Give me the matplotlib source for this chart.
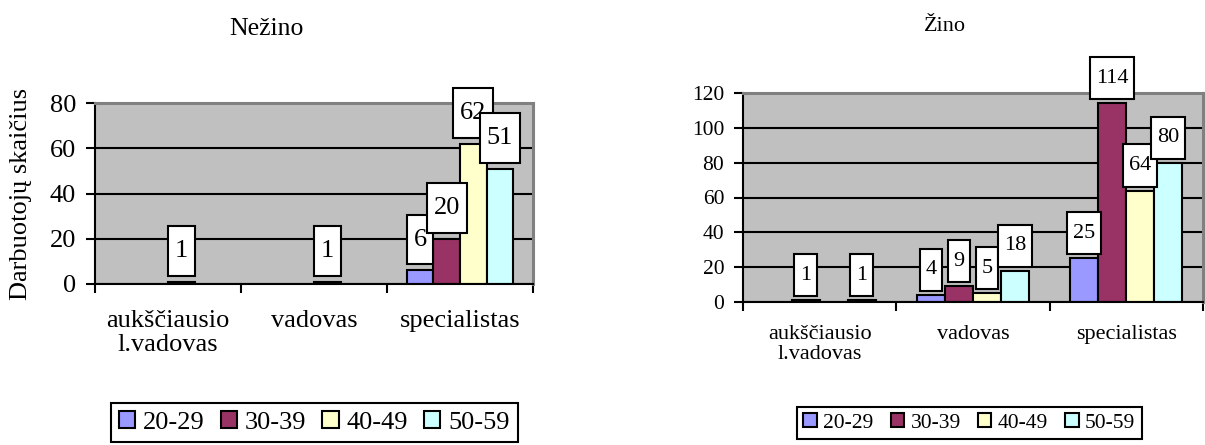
import numpy as np
import matplotlib
matplotlib.use('Agg')
import matplotlib.pyplot as plt
from matplotlib.path import Path

plt.rcParams['font.family'] = ['Liberation Serif', 'DejaVu Serif']

categories = ['aukščiausio\nl.vadovas', 'vadovas', 'specialistas']
age_groups = ['20-29', '30-39', '40-49', '50-59']
colors = ['#9999FF', '#993366', '#FFFFCC', '#CCFFFF']

# Nežino: counts per age group (None = empty cell)
nezino_20_29 = [None, None, 6]
nezino_30_39 = [None, None, 20]
nezino_40_49 = [1, 1, 62]
nezino_50_59 = [None, None, 51]

# Žino
zino_20_29 = [None, 4, 25]
zino_30_39 = [1, 9, 114]
zino_40_49 = [None, 5, 64]
zino_50_59 = [1, 18, 80]


def label_box(x0, y0, width, height, mutation_size):
    # plain rectangle, more padding above/below than at the sides
    px = 0.26 * mutation_size
    py = 0.52 * mutation_size
    x0, y0 = x0 - px, y0 - py
    x1, y1 = x0 + width + 2 * px, y0 + height + 2 * py
    return Path([(x0, y0), (x1, y0), (x1, y1), (x0, y1), (x0, y0)], closed=True)


def draw_chart(ax, series, ymax, fs, tick_fs, cat_fs, cat_pad, label_off):
    x = np.arange(len(categories))
    w = 0.1825
    for i, (vals, col, name) in enumerate(zip(series, colors, age_groups)):
        h = np.array([np.nan if v is None else v for v in vals], dtype=float)
        ax.bar(x + (i - 1.5) * w, h, w, color=col, edgecolor='black',
               linewidth=1.5, label=name, zorder=2)
    for i, vals in enumerate(series):
        for j, v in enumerate(vals):
            if v is None:
                continue
            ax.annotate(str(v), xy=(x[j] + (i - 1.5) * w, v),
                        xytext=(0, label_off), textcoords='offset points',
                        ha='center', va='bottom', fontsize=fs, zorder=5,
                        annotation_clip=False,
                        bbox=dict(boxstyle=label_box, fc='white', ec='black',
                                  lw=1.5, joinstyle='miter'))
    ax.set_facecolor('#C0C0C0')
    ax.set_xlim(-0.5, len(categories) - 0.5)
    ax.set_ylim(0, ymax)
    ax.set_yticks(np.arange(0, ymax + 1, 20))
    ax.yaxis.grid(True, color='black', linewidth=1.5)
    ax.set_axisbelow(True)
    ax.set_xticks(x)
    ax.set_xticklabels(categories, fontsize=cat_fs, linespacing=1.1)
    ax.set_xticks(np.arange(-0.5, len(categories)), minor=True)
    ax.tick_params(axis='x', which='major', length=0, pad=cat_pad)
    ax.tick_params(axis='x', which='minor', length=6.5, width=1.5, direction='out')
    ax.tick_params(axis='y', length=6.5, width=1.5, direction='out',
                   labelsize=tick_fs, pad=7)
    for s in ('left', 'bottom'):
        ax.spines[s].set_color('black')
        ax.spines[s].set_linewidth(1.5)
    for s in ('top', 'right'):
        ax.spines[s].set_color('#808080')
        ax.spines[s].set_linewidth(2.2)


def add_legend(fig, ax, x0, y0, fs, colspace):
    leg = fig.legend(handles=ax.containers, labels=age_groups, loc='upper left',
                     bbox_to_anchor=(x0, y0), bbox_transform=fig.transFigure,
                     ncol=4, fontsize=fs, frameon=True, fancybox=False,
                     edgecolor='black', framealpha=1, borderpad=0.3,
                     borderaxespad=0, handlelength=0.62, handleheight=0.62,
                     handletextpad=0.3, columnspacing=colspace)
    leg.get_frame().set_linewidth(1.5)
    return leg


fig = plt.figure(figsize=(12.05, 4.45), dpi=100)
W, H = 1205.0, 445.0

ax1 = fig.add_axes([95 / W, 1 - 284 / H, 438 / W, 181 / H])
draw_chart(ax1, [nezino_20_29, nezino_30_39, nezino_40_49, nezino_50_59],
           80, 19, 19, 19, 19, 14.2)
fig.text(21 / W, 1 - 194 / H, 'Darbuotojų skaičius', rotation=90,
         ha='center', va='center', fontsize=19)
fig.text(266 / W, 1 - 35 / H, 'Nežino', ha='center', va='baseline', fontsize=18.5)
add_legend(fig, ax1, 111 / W, 1 - 403 / H, 19, 0.6)

ax2 = fig.add_axes([743 / W, 1 - 302 / H, 460 / W, 209 / H])
draw_chart(ax2, [zino_20_29, zino_30_39, zino_40_49, zino_50_59],
           120, 16, 15.5, 16, 16.5, 11.2)
fig.text(945 / W, 1 - 31 / H, 'Žino', ha='center', va='baseline', fontsize=16)
add_legend(fig, ax2, 797 / W, 1 - 407 / H, 15.5, 0.8)

fig.savefig('out.png', dpi=100, facecolor='white')
